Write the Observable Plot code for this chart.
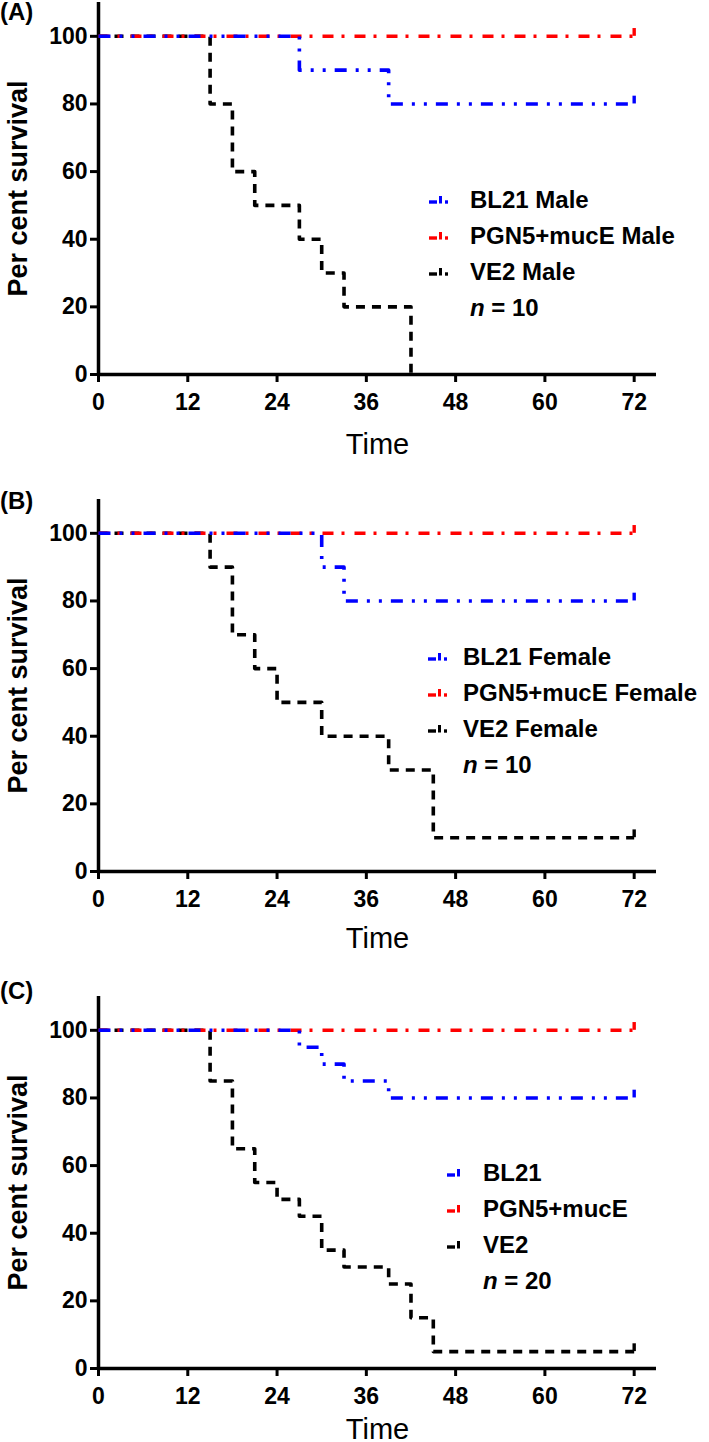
<!DOCTYPE html>
<html><head><meta charset="utf-8">
<script src="https://cdn.jsdelivr.net/npm/d3@7"></script>
<script src="https://cdn.jsdelivr.net/npm/@observablehq/plot@0.6"></script>
<style>
html,body{margin:0;padding:0;background:#fff}
body{width:709px;height:1442px;overflow:hidden;position:relative;font-family:"Liberation Sans",Arial,sans-serif;color:#000}
.panel{position:absolute;left:0;width:709px}
.plabel{position:absolute;left:0;font-weight:bold;font-size:24px;line-height:24px}
.row{position:absolute;height:36px;line-height:36px;white-space:nowrap;font-weight:bold;font-size:24px}
.sw{position:absolute;top:11px}
</style></head><body>
<script>
// ---- shared scales / styles ----
const xTicks = [0, 12, 24, 36, 48, 60, 72];
const yTicks = [0, 20, 40, 60, 80, 100];
const strains = ["BL21", "PGN5+mucE", "VE2"];
const strainColors = ["#0000ff", "#ff0000", "#000000"];
const strainDash = ["12,9,3,9,3,9", "11,8,3,10", "9,7"];
const censorTime = 72;

// ---- Panel A: males, n = 10 ----
const A_names = ["BL21 Male", "PGN5+mucE Male", "VE2 Male"];
const A_BL21_time = [0, 27, 39, 72];
const A_BL21_surv = [100, 90, 80, 80];
const A_PGN_time = [0, 72];
const A_PGN_surv = [100, 100];
const A_VE2_time = [0, 15, 18, 21, 27, 30, 33, 42];
const A_VE2_surv = [100, 80, 60, 50, 40, 30, 20, 0];
const A_n = 10;

// ---- Panel B: females, n = 10 ----
const B_names = ["BL21 Female", "PGN5+mucE Female", "VE2 Female"];
const B_BL21_time = [0, 30, 33, 72];
const B_BL21_surv = [100, 90, 80, 80];
const B_PGN_time = [0, 72];
const B_PGN_surv = [100, 100];
const B_VE2_time = [0, 15, 18, 21, 24, 30, 39, 45, 72];
const B_VE2_surv = [100, 90, 70, 60, 50, 40, 30, 10, 10];
const B_n = 10;

// ---- Panel C: combined, n = 20 ----
const C_names = ["BL21", "PGN5+mucE", "VE2"];
const C_BL21_time = [0, 27, 30, 33, 39, 72];
const C_BL21_surv = [100, 95, 90, 85, 80, 80];
const C_PGN_time = [0, 72];
const C_PGN_surv = [100, 100];
const C_VE2_time = [0, 15, 18, 21, 24, 27, 30, 33, 39, 42, 45, 72];
const C_VE2_surv = [100, 85, 65, 55, 50, 45, 35, 30, 25, 15, 5, 5];
const C_n = 20;

const panels = [
  {label: "(A)", top: 0, names: A_names, n: A_n, timeDy: 70,
   series: [[A_BL21_time, A_BL21_surv], [A_PGN_time, A_PGN_surv], [A_VE2_time, A_VE2_surv]],
   labelTop: 0, leg: {sw: 429, tx: 470, y: 200}},
  {label: "(B)", top: 497, names: B_names, n: B_n, timeDy: 67,
   series: [[B_BL21_time, B_BL21_surv], [B_PGN_time, B_PGN_surv], [B_VE2_time, B_VE2_surv]],
   labelTop: 489, leg: {sw: 428, tx: 463, y: 657}},
  {label: "(C)", top: 994, names: C_names, n: C_n, timeDy: 61,
   series: [[C_BL21_time, C_BL21_surv], [C_PGN_time, C_PGN_surv], [C_VE2_time, C_VE2_surv]],
   labelTop: 979, leg: {sw: 447, tx: 483, y: 1173}, noDot: true}
];

const sans = "'Liberation Sans',Arial,sans-serif";

function makePanel(p) {
  const marks = [];
  // draw black first, then red, then blue on top
  for (const i of [2, 1, 0]) {
    const [ts, ss] = p.series[i];
    const data = ts.map((t, k) => ({t, s: ss[k]}));
    marks.push(Plot.line(data, {x: "t", y: "s", curve: "step-after", stroke: strainColors[i],
      strokeWidth: 3.6, strokeDasharray: strainDash[i], strokeLinecap: "butt"}));
    const last = data[data.length - 1];
    if (last.t === censorTime) {
      marks.push(Plot.ruleX([last], {x: "t", y1: "s", y2: d => d.s + 2.3, stroke: strainColors[i], strokeWidth: 3.4}));
    }
  }
  return Plot.plot({
    width: 709, height: 457,
    marginLeft: 98, marginRight: 53, marginTop: 2, marginBottom: 83,
    x: {domain: [0, 75]},
    y: {domain: [0, 110]},
    style: {background: "white", color: "black", overflow: "visible", fontFamily: sans},
    marks: [
      Plot.axisX({ticks: xTicks, tickSize: 8, tickPadding: 11, strokeWidth: 3, fontSize: 23, fontWeight: "bold", fontFamily: sans, label: null}),
      Plot.axisY({ticks: yTicks, tickSize: 8, tickPadding: 3, strokeWidth: 3, fontSize: 23, fontWeight: "bold", fontFamily: sans, label: null}),
      Plot.ruleX([0], {y1: 0, y2: 110, strokeWidth: 3.5}),
      Plot.ruleY([0], {x1: 0, x2: 75, strokeWidth: 3.5}),
      Plot.text(["Time"], {frameAnchor: "bottom", dy: p.timeDy, text: d => d, fontSize: 29, fontFamily: sans, lineAnchor: "middle"}),
      Plot.text(["Per cent survival"], {frameAnchor: "left", dx: -80, rotate: -90, text: d => d, fontSize: 27, fontWeight: "bold", fontFamily: sans, lineAnchor: "middle", textAnchor: "middle"}),
      ...marks
    ]
  });
}

function swatch(i, noDot) {
  const ns = "http://www.w3.org/2000/svg";
  const s = document.createElementNS(ns, "svg");
  s.setAttribute("width", 24); s.setAttribute("height", 14); s.setAttribute("class", "sw");
  const c = strainColors[i];
  s.innerHTML = `<line x1="0" x2="8" y1="9" y2="9" stroke="${c}" stroke-width="3.4"/>` +
    `<line x1="11.5" x2="11.5" y1="3" y2="10.5" stroke="${c}" stroke-width="3"/>` +
    (noDot ? "" : `<line x1="16" x2="19" y1="9" y2="9" stroke="${c}" stroke-width="3.4"/>`);
  return s;
}

for (const p of panels) {
  const div = document.createElement("div");
  div.className = "panel"; div.style.top = p.top + "px";
  div.appendChild(makePanel(p));
  document.body.appendChild(div);

  const lab = document.createElement("div");
  lab.className = "plabel"; lab.style.top = p.labelTop + "px"; lab.textContent = p.label;
  document.body.appendChild(lab);

  const rowH = 36;
  p.names.forEach((name, i) => {
    const r = document.createElement("div");
    r.className = "row"; r.style.top = (p.leg.y - rowH / 2 + i * rowH) + "px"; r.style.left = p.leg.sw + "px";
    r.appendChild(swatch(i, p.noDot));
    const t = document.createElement("span");
    t.style.position = "absolute"; t.style.left = (p.leg.tx - p.leg.sw) + "px";
    t.textContent = name;
    r.appendChild(t);
    document.body.appendChild(r);
  });
  const nr = document.createElement("div");
  nr.className = "row"; nr.style.top = (p.leg.y - rowH / 2 + 3 * rowH) + "px"; nr.style.left = p.leg.tx + "px";
  nr.innerHTML = `<i>n</i> = ${p.n}`;
  document.body.appendChild(nr);
}
</script>
</body></html>
